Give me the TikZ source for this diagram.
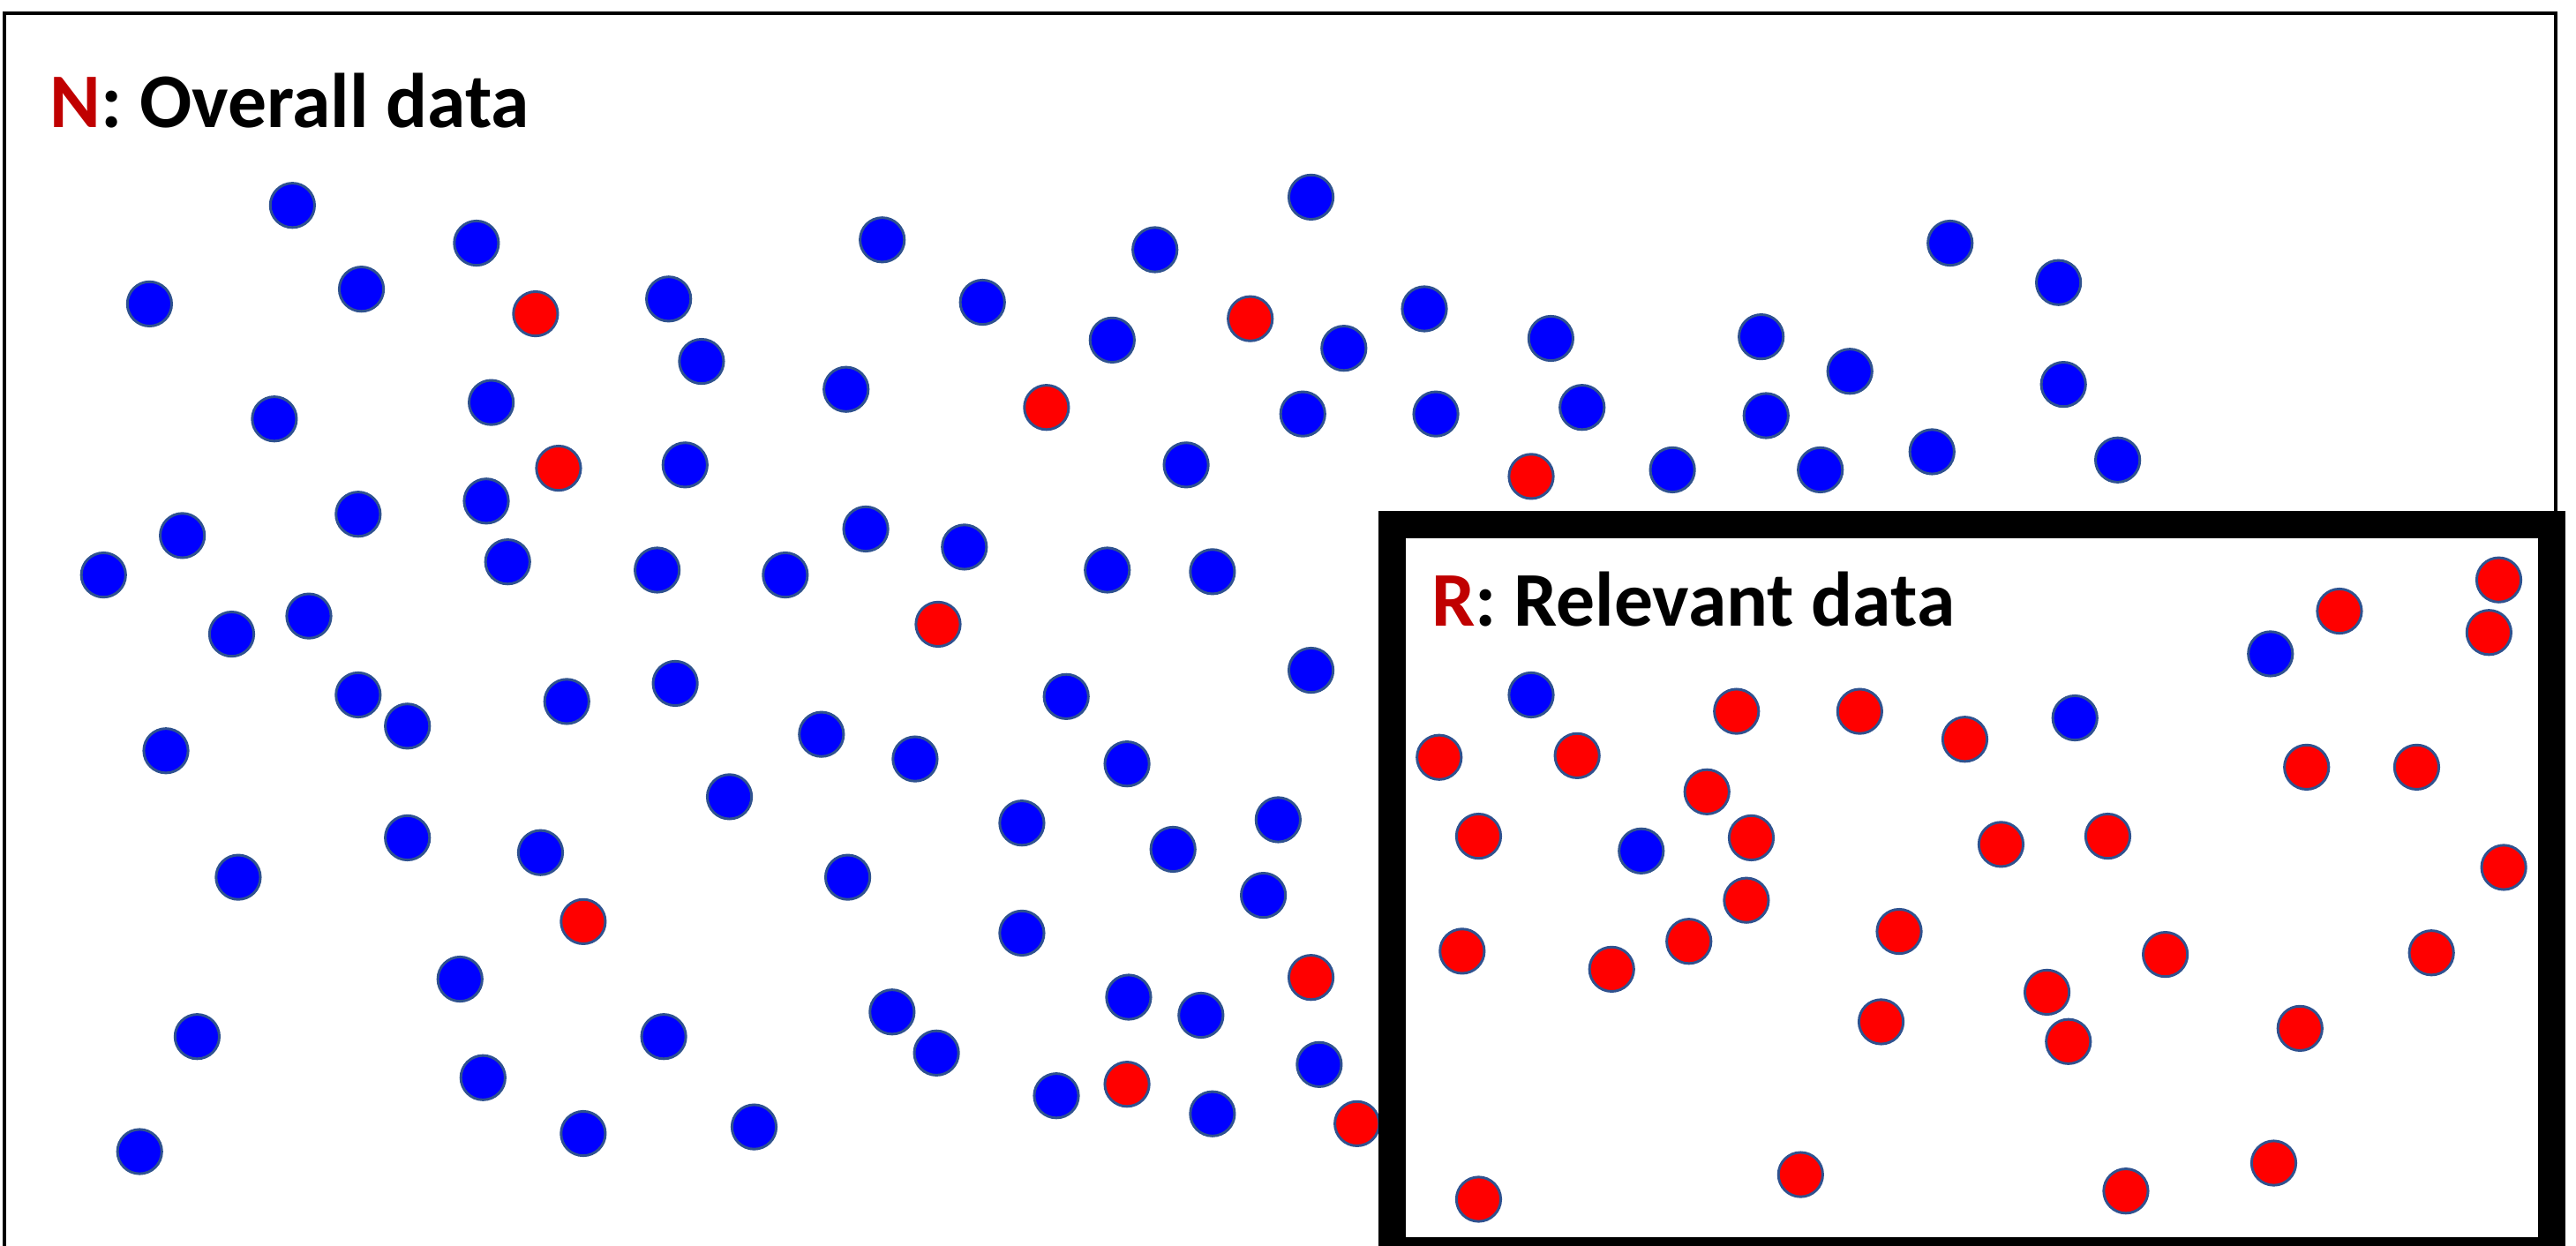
\documentclass[tikz,border=0pt]{standalone}
\usepackage{fontspec}
\setmainfont{Carlito}
\definecolor{dotblue}{HTML}{0000FF}
\definecolor{dotred}{HTML}{FF0000}
\definecolor{dotedge}{HTML}{2F528F}
\definecolor{darkred}{HTML}{C00000}
\tikzset{
  bdot/.style={circle, fill=dotblue, draw=dotedge, line width=0.9pt, minimum size=0.54cm, inner sep=0pt},
  rdot/.style={circle, fill=dotred, draw=dotedge, line width=0.9pt, minimum size=0.54cm, inner sep=0pt},
  title/.style={anchor=base west, inner sep=0pt, font=\fontsize{26.8}{30}\selectfont\bfseries},
  thinframe/.style={draw=black, line width=0.04cm},
  thickframe/.style={draw=black, line width=0.333cm}
}
\begin{document}
\begin{tikzpicture}[x=0.02cm, y=-0.02cm]
\useasboundingbox (0,0) rectangle (1568,758);
\clip (0,0) rectangle (1568,758);
\fill[white] (0,0) rectangle (1568,758);
% outer thin frame
\draw[thinframe] (2.7,800) -- (2.7,8) -- (1555.7,8) -- (1555.7,330);
% blue dots
\foreach \x/\y [count=\i] in {178/125,290/148,91/185,220/176,407/182,427/220,167/255,299/245,417/283,537/146,
  598/184,703/152,677/207,515/237,798/120,818/212,867/188,793/252,874/252,944/206,
  963/248,722/283,1072/205,1126/226,1075/253,1018/286,1108/286,1176/275,1187/148,1253/172,
  1256/234,1289/280,218/313,296/305,111/326,63/350,309/342,400/347,478/350,527/322,
  587/333,674/347,738/348,141/386,188/375,218/423,248/442,345/427,411/416,101/457,
  500/447,557/462,649/424,686/465,798/408,444/485,248/510,329/519,145/534,516/534,
  622/501,714/517,778/499,769/545,622/568,280/596,120/631,404/631,294/656,543/616,
  570/641,687/607,731/618,803/648,643/667,738/678,85/701,355/690,459/686,
  932/423,999/518,1263/437,1382/398}
  \node[bdot] (b\i) at (\x,\y) {};
% red dots
\foreach \x/\y [count=\i] in {326/191,340/285,637/248,761/194,932/290,571/380,355/561,798/595,686/660,826/684,
  876/461,960/460,1057/433,1132/433,1196/450,1039/482,900/509,1066/510,1218/514,1283/509,
  1063/548,890/579,981/590,1028/573,1156/567,1145/622,1246/604,1259/634,1318/581,1404/467,
  1471/467,1424/372,1521/353,1515/385,1524/528,1480/580,1400/626,900/730,1096/715,1294/725,1384/708}
  \node[rdot] (r\i) at (\x,\y) {};
% thick relevant box
\draw[thickframe] (847.3,319.1) rectangle (1553.3,761.3);
% titles
\node[title] (ntitle) at (30,77.5) {\textcolor{darkred}{N}: Overall data};
\node[title] (rtitle) at (871,381) {\textcolor{darkred}{R}: Relevant data};
\end{tikzpicture}
\end{document}
